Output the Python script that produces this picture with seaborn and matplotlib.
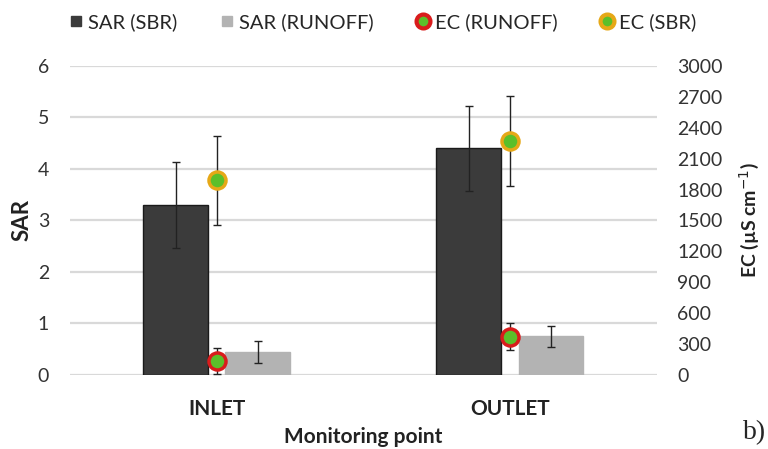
import matplotlib
matplotlib.use("Agg")
import matplotlib.pyplot as plt
import seaborn as sns
import pandas as pd
from matplotlib.lines import Line2D

points = ["INLET", "OUTLET"]
sar_sbr = [3.3, 4.4]
sar_sbr_err = [0.83, 0.83]
sar_runoff = [0.44, 0.75]
sar_runoff_err = [0.21, 0.2]
ec_sbr = [1890, 2270]
ec_sbr_err = [430, 440]
ec_runoff = [136, 370]
ec_runoff_err = [130, 130]

sns.set_theme(style="white")
plt.rcParams['font.family'] = ['Lato', 'DejaVu Sans']

df = pd.DataFrame({
    "point": points * 2,
    "series": ["SAR (SBR)"] * 2 + ["SAR (RUNOFF)"] * 2,
    "SAR": sar_sbr + sar_runoff,
})

fig = plt.figure(figsize=(7.68, 4.49), dpi=100)
ax = fig.add_axes([0.091, 0.165, 0.764, 0.688])

dark = "#3b3b3b"
light = "#b3b3b3"
sns.barplot(data=df, x="point", y="SAR", hue="series", ax=ax,
            palette=[dark, light], width=0.56, gap=0.21, errorbar=None,
            legend=False)
for p in ax.patches[:2]:
    p.set_edgecolor("#1a1a1a")
    p.set_linewidth(1.0)
for p in ax.patches[2:4]:
    p.set_edgecolor(light)

bars = ax.patches[:4]
errs = sar_sbr_err + sar_runoff_err
vals = sar_sbr + sar_runoff
for p, v, e in zip(bars, vals, errs):
    cx = p.get_x() + p.get_width() / 2
    ax.errorbar(cx, v, yerr=e, fmt="none", ecolor="#222222", elinewidth=1.0,
                capsize=3, capthick=1.0, zorder=5)

ax.set_ylim(0, 6)
ax.set_xlim(-0.5, 1.5)
ax.set_yticks(range(0, 7))
ax.yaxis.grid(True, color="#d9d9d9", linewidth=1.6)
ax.set_axisbelow(True)
for s in ax.spines.values():
    s.set_visible(False)
ax.tick_params(axis="y", length=0, labelsize=14, colors="#333333", pad=15)
ax.tick_params(axis="x", length=0, labelsize=15, colors="#222222", pad=17)
for t in ax.get_xticklabels():
    t.set_fontweight("bold")
ax.set_ylabel("SAR", fontsize=16, fontweight="bold", labelpad=4, color="#222222")
ax.set_xlabel("Monitoring point", fontsize=15, fontweight="bold", labelpad=6, color="#222222")

ax2 = ax.twinx()
ax2.set_ylim(0, 3000)
ax2.set_yticks(range(0, 3001, 300))
for s in ax2.spines.values():
    s.set_visible(False)
ax2.tick_params(axis="y", length=0, labelsize=14, colors="#333333", pad=15)
ax2.set_ylabel("EC (µS cm$^{-1}$)", fontsize=14, fontweight="bold", color="#222222", labelpad=10)

xs = [0, 1]
green = "#5cbf2a"
ax2.errorbar(xs, ec_sbr, yerr=ec_sbr_err, fmt="none", ecolor="#222222",
             elinewidth=1.0, capsize=3, capthick=1.0, zorder=3)
ax2.errorbar(xs, ec_runoff, yerr=ec_runoff_err, fmt="none", ecolor="#222222",
             elinewidth=1.0, capsize=3, capthick=1.0, zorder=3)
sns.scatterplot(x=xs, y=ec_sbr, ax=ax2, s=150, color=green, edgecolor="#e6a817",
                linewidth=2.5, zorder=4)
sns.scatterplot(x=xs, y=ec_runoff, ax=ax2, s=150, color=green, edgecolor="#d91c1c",
                linewidth=2.5, zorder=4)
ax2.set_xlim(-0.5, 1.5)

handles = [
    Line2D([], [], marker="s", linestyle="none", markerfacecolor=dark, markeredgecolor=dark, markersize=7.5),
    Line2D([], [], marker="s", linestyle="none", markerfacecolor=light, markeredgecolor=light, markersize=7.5),
    Line2D([], [], marker="o", linestyle="none", markerfacecolor=green, markeredgecolor="#d91c1c", markeredgewidth=3, markersize=10),
    Line2D([], [], marker="o", linestyle="none", markerfacecolor=green, markeredgecolor="#e6a817", markeredgewidth=3, markersize=10),
]
labels = ["SAR (SBR)", "SAR (RUNOFF)", "EC (RUNOFF)", "EC (SBR)"]
fig.legend(handles, labels, loc="upper center", bbox_to_anchor=(0.498, 1.01), ncol=4,
           frameon=False, fontsize=14.5, handletextpad=0.25, columnspacing=2.1,
           handlelength=0.7)

fig.text(0.997, 0.008, "b)", fontsize=20, family="Liberation Serif", ha="right", va="bottom")

fig.savefig("out.png", dpi=100)
